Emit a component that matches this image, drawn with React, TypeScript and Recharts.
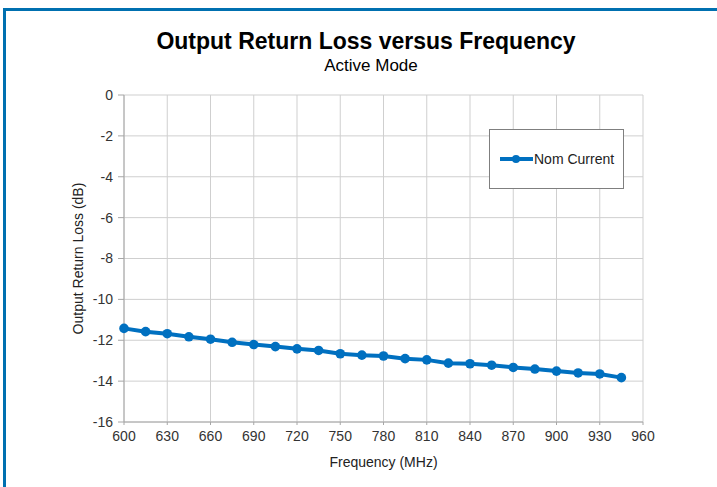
import { LineChart, Line, XAxis, YAxis, CartesianGrid } from "recharts"

const frequency = [
  600, 615, 630, 645, 660, 675, 690, 705, 720, 735, 750, 765,
  780, 795, 810, 825, 840, 855, 870, 885, 900, 915, 930, 945,
]
const nomCurrent = [
  -11.42, -11.58, -11.68, -11.83, -11.95, -12.1, -12.21, -12.31, -12.42, -12.5, -12.66, -12.73,
  -12.77, -12.9, -12.96, -13.12, -13.15, -13.22, -13.33, -13.41, -13.51, -13.6, -13.65, -13.83,
]
const xTicks = [600, 630, 660, 690, 720, 750, 780, 810, 840, 870, 900, 930, 960]
const yTicks = [0, -2, -4, -6, -8, -10, -12, -14, -16]

const data = frequency.map((f, i) => ({ f, nom: nomCurrent[i] }))

const BLUE = "#0070c0"
const FONT = "'Liberation Sans', Arial, sans-serif"

// legend drawn as a plain box so it doesn't eat into the plot area
function LegendBox() {
  return (
    <div
      style={{
        position: "absolute",
        left: 489,
        top: 129,
        width: 133,
        height: 58,
        border: "1px solid #7f7f7f",
        background: "#fff",
        display: "flex",
        alignItems: "center",
        fontFamily: FONT,
        fontSize: 14,
        color: "#222",
      }}
    >
      <svg width={34} height={10} style={{ marginLeft: 10 }}>
        <line x1={0} y1={5} x2={33} y2={5} stroke={BLUE} strokeWidth={4} />
        <circle cx={16} cy={5} r={4} fill={BLUE} />
      </svg>
      <span>Nom Current</span>
    </div>
  )
}

export default function App() {
  return (
    <div style={{ position: "absolute", left: 0, top: 0, width: 717, height: 487, background: "#fff", overflow: "hidden" }}>
      {/* blue frame */}
      <div
        style={{
          position: "absolute",
          left: 3,
          top: 8,
          width: 720,
          height: 490,
          borderTop: "3px solid #0070b0",
          borderLeft: "3px solid #0070b0",
        }}
      />
      <div
        style={{
          position: "absolute",
          left: 0,
          width: 732,
          top: 28,
          textAlign: "center",
          fontFamily: FONT,
          fontWeight: "bold",
          fontSize: 23,
          color: "#000",
        }}
      >
        Output Return Loss versus Frequency
      </div>
      <div
        style={{
          position: "absolute",
          left: 0,
          width: 742,
          top: 56,
          textAlign: "center",
          fontFamily: FONT,
          fontSize: 17,
          color: "#000",
        }}
      >
        Active Mode
      </div>
      <div style={{ position: "absolute", left: 0, top: 0 }}>
        <LineChart
          width={717}
          height={487}
          data={data}
          margin={{ top: 95, right: 74, bottom: 25, left: 84 }}
        >
          <CartesianGrid stroke="#cfcfcf" strokeWidth={1} />
          <XAxis
            dataKey="f"
            type="number"
            domain={[600, 960]}
            ticks={xTicks}
            height={40}
            stroke="#a6a6a6"
            tickSize={3}
            tickMargin={6}
            tick={{ fill: "#333", fontSize: 14, fontFamily: FONT }}
            label={{
              value: "Frequency (MHz)",
              position: "insideBottom",
              offset: -5,
              style: { fill: "#222", fontSize: 14, fontFamily: FONT },
            }}
          />
          <YAxis
            type="number"
            domain={[-16, 0]}
            ticks={yTicks}
            width={40}
            stroke="#a6a6a6"
            tickSize={6}
            tickMargin={5}
            tick={{ fill: "#333", fontSize: 14, fontFamily: FONT }}
            label={{
              value: "Output Return Loss (dB)",
              angle: -90,
              position: "insideLeft",
              offset: -6,
              style: { textAnchor: "middle", fill: "#222", fontSize: 14, fontFamily: FONT },
            }}
          />
          <Line
            dataKey="nom"
            name="Nom Current"
            stroke={BLUE}
            strokeWidth={4}
            dot={{ r: 4.8, fill: BLUE, stroke: BLUE, strokeWidth: 0 }}
            isAnimationActive={false}
          />
        </LineChart>
      </div>
      <LegendBox />
    </div>
  )
}
